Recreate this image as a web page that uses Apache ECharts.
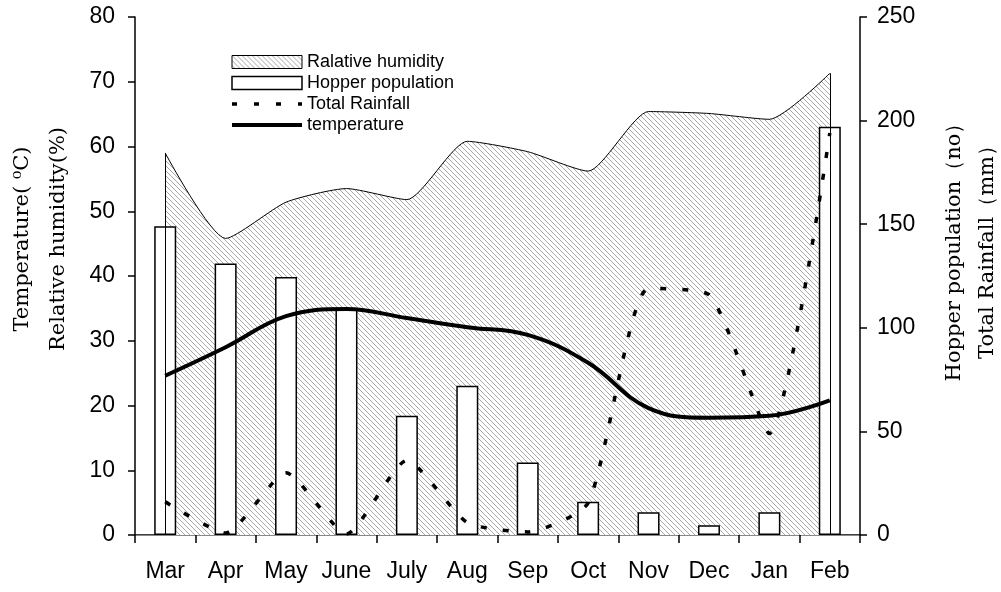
<!DOCTYPE html>
<html>
<head>
<meta charset="utf-8">
<script src="https://cdn.jsdelivr.net/npm/echarts@6/dist/echarts.min.js"></script>
<style>
html,body{margin:0;padding:0;background:#fff;}
#chart{width:1001px;height:592px;}
</style>
</head>
<body>
<div id="chart"></div>
<script>
// ---- data ----
const months = ['Mar','Apr','May','June','July','Aug','Sep','Oct','Nov','Dec','Jan','Feb'];
const humidity = [59.0, 45.8, 51.4, 53.5, 51.8, 60.8, 59.2, 56.2, 65.4, 65.1, 64.2, 71.3];   // %
const temperature = [24.6, 29.0, 33.8, 34.9, 33.5, 32.1, 30.9, 26.6, 19.6, 18.1, 18.4, 20.8]; // °C
const rainfall = [16, 1, 30, 0.5, 36, 6, 1.5, 15.5, 119, 116, 49, 194];                  // mm
const hopper = [149, 131, 124.5, 109, 57.5, 72, 35, 16, 11, 4.7, 11, 197];               // no
const legendNames = ['Ralative humidity', 'Hopper population', 'Total Rainfall', 'temperature'];
const leftAxisName = 'Temperature( \u2070C)\nRelative humidity(%)';
const rightAxisName = 'Hopper population\uff08no\uff09\nTotal Rainfall\uff08mm\uff09';

function hatch() {
  const n = 5;
  const c = document.createElement('canvas');
  c.width = n; c.height = n;
  const g = c.getContext('2d');
  g.fillStyle = '#fff'; g.fillRect(0, 0, n, n);
  g.fillStyle = '#a8a8a8';
  for (let i = 0; i < n; i++) g.fillRect(i, i, 1, 1);
  return c;
}
const pattern = { image: hatch(), repeat: 'repeat' };

const serif = "'DejaVu Serif', 'Liberation Serif', serif";
const tickFont = { fontFamily: 'Liberation Sans', fontSize: 23, color: '#000' };
const axisLine = { show: true, lineStyle: { color: '#000', width: 1.5 } };
const axisTick = { show: true, length: 7, lineStyle: { color: '#000', width: 1.5 } };
const last = months.length - 1;

const chart = echarts.init(document.getElementById('chart'), null, { renderer: 'canvas' });
chart.setOption({
  animation: false,
  backgroundColor: '#fff',
  grid: { left: 135, right: 141, top: 17, bottom: 57, containLabel: false, outerBoundsMode: 'none' },
  legend: {
    orient: 'vertical', left: 230, top: 53, padding: 0,
    itemWidth: 70, itemHeight: 13, itemGap: 3,
    selectedMode: false,
    textStyle: { fontFamily: 'Liberation Sans', fontSize: 18, lineHeight: 18, color: '#000' },
    data: [
      { name: legendNames[0], icon: 'rect', itemStyle: { color: pattern, borderColor: '#000', borderWidth: 1 } },
      { name: legendNames[1], icon: 'rect', itemStyle: { color: '#fff', borderColor: '#000', borderWidth: 1.5 } },
      { name: legendNames[2], itemStyle: { opacity: 0 }, lineStyle: { color: '#000', width: 3.5, type: [5, 17] } },
      { name: legendNames[3], itemStyle: { opacity: 0 }, lineStyle: { color: '#000', width: 4 } }
    ]
  },
  xAxis: [
    {
      type: 'category', data: months,
      axisLine: axisLine,
      axisTick: { show: true, interval: 0, length: 8, lineStyle: { color: '#000', width: 1.5 } },
      axisLabel: Object.assign({ margin: 25, interval: 0 }, tickFont),
      splitLine: { show: false }
    },
    {
      type: 'category', data: months, position: 'top',
      axisLine: { show: true, lineStyle: { color: '#888', width: 1 } },
      axisTick: { show: false }, axisLabel: { show: false }, splitLine: { show: false }
    }
  ],
  yAxis: [
    {
      type: 'value', min: 0, max: 80, interval: 10, position: 'left',
      name: leftAxisName, nameLocation: 'middle', nameRotate: 90, nameGap: 58,
      nameTextStyle: { fontFamily: serif, fontSize: 21, lineHeight: 36, color: '#000', padding: [0, 0, 0, 74] },
      axisLine: axisLine, axisTick: axisTick,
      axisLabel: Object.assign({ margin: 20 }, tickFont),
      splitLine: { show: false }
    },
    {
      type: 'value', min: 0, max: 250, interval: 50, position: 'right',
      name: rightAxisName, nameLocation: 'middle', nameRotate: 90, nameGap: 78,
      nameTextStyle: { fontFamily: serif, fontSize: 21, lineHeight: 33, color: '#000', padding: [0, 0, 0, 58] },
      axisLine: axisLine, axisTick: axisTick,
      axisLabel: Object.assign({ margin: 17 }, tickFont),
      splitLine: { show: false }
    }
  ],
  series: [
    {
      name: legendNames[0], type: 'line', yAxisIndex: 0, data: humidity,
      smooth: 0.2, symbol: 'none', z: 1,
      itemStyle: { color: '#000' },
      lineStyle: { color: '#000', width: 1 },
      areaStyle: { color: pattern, opacity: 1 },
      markLine: {
        silent: true, symbol: 'none', label: { show: false },
        lineStyle: { color: '#000', width: 1, type: 'solid' },
        data: [
          [{ coord: [months[0], 0] }, { coord: [months[0], humidity[0]] }],
          [{ coord: [months[last], 0] }, { coord: [months[last], humidity[last]] }]
        ]
      }
    },
    {
      name: legendNames[1], type: 'bar', yAxisIndex: 1, data: hopper,
      barWidth: 22, z: 2,
      itemStyle: { color: '#fff', borderColor: '#000', borderWidth: 1.5 }
    },
    {
      name: legendNames[2], type: 'line', yAxisIndex: 1, data: rainfall,
      smooth: 0.2, symbol: 'none', z: 3,
      itemStyle: { color: '#000' },
      lineStyle: { color: '#000', width: 3.5, type: [6, 16] }
    },
    {
      name: legendNames[3], type: 'line', yAxisIndex: 0, data: temperature,
      smooth: 0.4, symbol: 'none', z: 4,
      itemStyle: { color: '#000' },
      lineStyle: { color: '#000', width: 4 }
    }
  ]
});
</script>
</body>
</html>
